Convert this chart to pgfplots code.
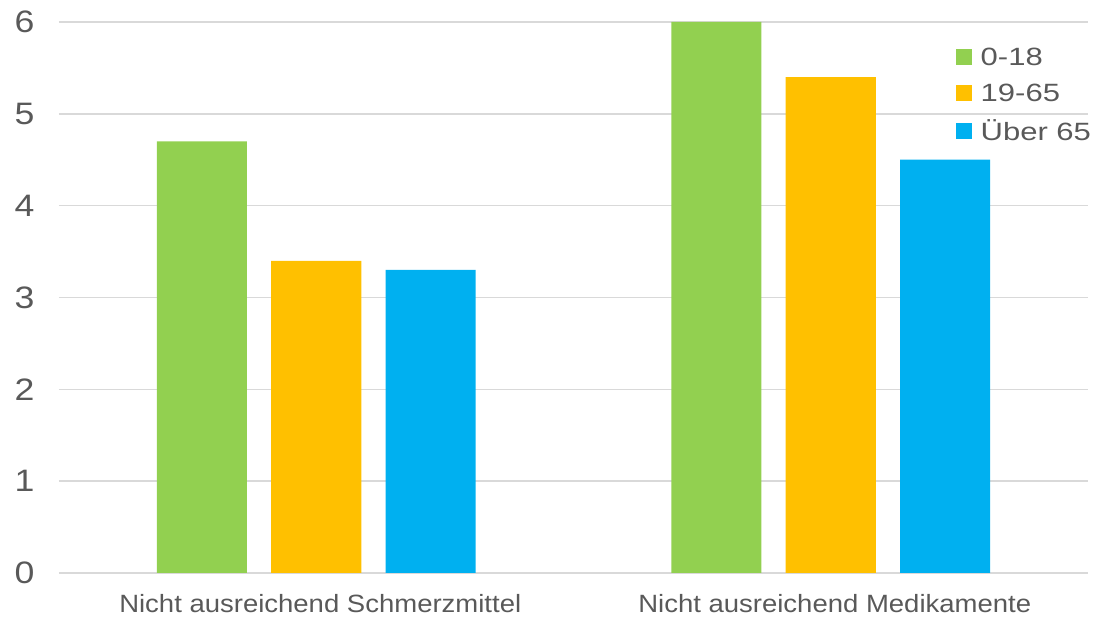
\documentclass[border=0pt]{standalone}
\usepackage{pgfplots}
\pgfplotsset{compat=1.18}
\usepackage{fontspec}
\setmainfont{Liberation Sans}
\definecolor{cgreen}{HTML}{92D050}
\definecolor{corange}{HTML}{FFC000}
\definecolor{cblue}{HTML}{00B0F0}
\definecolor{cgrid}{HTML}{D9D9D9}
\definecolor{ctext}{HTML}{595959}
\newcommand{\wide}[1]{\scalebox{1.15}[1]{#1}}
\newcommand{\legwide}[1]{\scalebox{1.24}[1]{#1}}
\newcommand{\catwide}[1]{\scalebox{1.1}[1]{#1}}
\pgfplotsset{
  squarelegend/.style={legend image code/.code={\fill[##1] (0pt,-8pt) rectangle (16pt,8pt);}},
}
\begin{document}
\begin{tikzpicture}[x=1pt,y=1pt]
\useasboundingbox (0,0) rectangle (1096,617);
\begin{axis}[
  at={(59pt,44pt)}, anchor=south west,
  scale only axis, width=1029pt, height=551pt,
  xmin=-0.5, xmax=1.5, ymin=0, ymax=6,
  ytick={0,1,...,6},
  xtick={0,1},
  xticklabels={\catwide{Nicht ausreichend Schmerzmittel}, \catwide{Nicht ausreichend Medikamente}},
  yticklabel={\wide{\pgfmathprintnumber{\tick}}},
  major tick length=0,
  axis line style={draw=none},
  ymajorgrids, grid style={cgrid, line width=1.5pt},
  /pgf/number format/assume math mode=true,
  yticklabel style={font=\fontsize{31}{33}\selectfont, text=ctext, xshift=-21pt},
  xticklabel style={font=\fontsize{25}{27}\selectfont, text=ctext, inner sep=0pt, text depth=0pt, yshift=-21pt, xshift=4pt},
  ybar, bar width=0.175,
  legend style={at={(1.007,0.959)}, anchor=north east, draw=none, fill=none,
    font=\fontsize{25}{28}\selectfont, text=ctext,
    /tikz/every odd column/.append style={column sep=8pt},
    nodes={inner sep=1pt}, row sep=15pt},
  legend cell align=left,
]
\addplot[draw=none, fill=cgreen, bar shift=-0.2225, squarelegend] coordinates {(0,4.7) (1,6.0)};
\addplot[draw=none, fill=corange, bar shift=0, squarelegend] coordinates {(0,3.4) (1,5.4)};
\addplot[draw=none, fill=cblue, bar shift=0.2225, squarelegend] coordinates {(0,3.3) (1,4.5)};
\legend{\legwide{0-18}, \legwide{19-65}, \legwide{Über 65}}
\end{axis}
\end{tikzpicture}
\end{document}
